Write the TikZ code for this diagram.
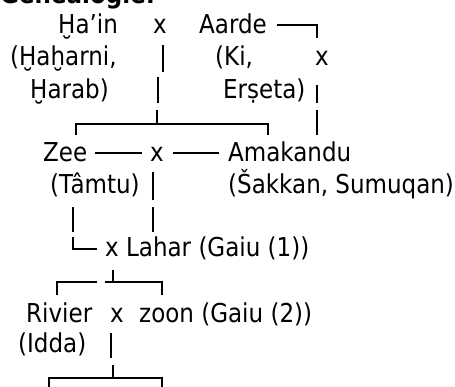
\documentclass[tikz,border=0pt]{standalone}
\usepackage{fontspec}
\setmainfont[FakeStretch=0.885]{DejaVu Sans}
\begin{document}
\begin{tikzpicture}[x=1pt,y=-1pt,
  txt/.style={anchor=base west,inner sep=0pt,font=\fontsize{26}{30}\selectfont},
  ttl/.style={anchor=base west,inner sep=0pt,font=\fontsize{26}{30}\selectfont\bfseries},
  ln/.style={line width=1.2pt}]
\useasboundingbox (0,0) rectangle (455,387);
% texts
\node[ttl] (title) at (0,4) {Genealogie:};
\node[txt] (hain) at (58,34) {Ḫa’in};
\node[txt] (xa) at (153,34) {x};
\node[txt] (aarde) at (199,34) {Aarde};
\node[txt] (hah) at (10,66) {(Ḫaḫarni,};
\node[txt] (ki) at (215,66) {(Ki,};
\node[txt] (xb) at (315,66) {x};
\node[txt] (harab) at (30,99) {Ḫarab)};
\node[txt] (erseta) at (223,99) {Erṣeta)};
\node[txt] (zee) at (43,162) {Zee};
\node[txt] (xc) at (150,162) {x};
\node[txt] (amak) at (228,162) {Amakandu};
\node[txt] (tamtu) at (50,194) {(Tâmtu)};
\node[txt] (sak) at (228,194) {(Šakkan, Sumuqan)};
\node[txt] (lahar) at (105,257) {x Lahar (Gaiu (1))};
\node[txt] (rivier) at (26,322) {Rivier};
\node[txt] (xd) at (110,322) {x};
\node[txt] (zoon) at (139,322) {zoon (Gaiu (2))};
\node[txt] (idda) at (18,352) {(Idda)};
% connectors
\draw[ln] (277,25) -- (317,25) -- (317,38);
\draw[ln] (163,45) -- (163,72);
\draw[ln] (158,77) -- (158,103);
\draw[ln] (317,85) -- (317,103);
\draw[ln] (317,110) -- (317,135);
\draw[ln] (76,135) -- (76,124) -- (268,124) -- (268,135);
\draw[ln] (157,110) -- (157,124);
\draw[ln] (95,153) -- (142,153);
\draw[ln] (173,153) -- (219,153);
\draw[ln] (153,172) -- (153,200);
\draw[ln] (73,207) -- (73,232);
\draw[ln] (153,207) -- (153,232);
\draw[ln] (73,237) -- (73,249) -- (97,249);
\draw[ln] (57,295) -- (57,282) -- (97,282);
\draw[ln] (105,282) -- (162,282) -- (162,295);
\draw[ln] (113,270) -- (113,282);
\draw[ln] (111,333) -- (111,358);
\draw[ln] (49,392) -- (49,378) -- (162,378) -- (162,392);
\draw[ln] (113,365) -- (113,378);
\end{tikzpicture}
\end{document}
